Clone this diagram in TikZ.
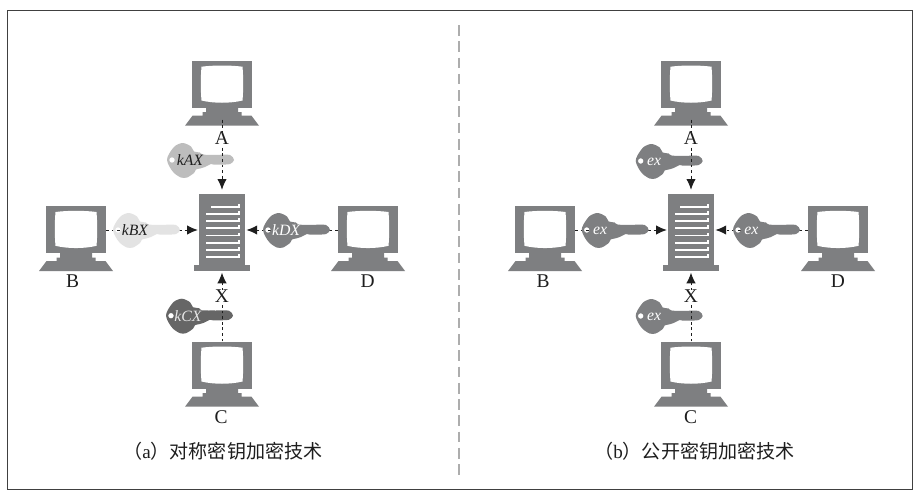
\documentclass[tikz,border=0pt]{standalone}
\usepackage{fontspec}
\setmainfont{Liberation Serif}
\newfontfamily\cjk{Noto Sans CJK SC}
\usetikzlibrary{arrows.meta}
\definecolor{dev}{HTML}{7E7F81}
\definecolor{ink}{HTML}{1E1E1E}
\def\pxu{0.75pt}
\tikzset{
  devfill/.style={fill=dev,draw=none},
  lbl/.style={font=\fontsize{14.6}{16}\selectfont,text=ink,inner sep=0.4pt,fill=white},
  keytxt/.style={font=\fontsize{11.8}{13}\selectfont\itshape,inner sep=0pt},
  caption/.style={font=\fontsize{14.3}{16}\selectfont,text=ink,inner sep=0pt,anchor=west},
  link/.style={draw=ink,line width=0.75pt,dash pattern=on 2.1pt off 2.1pt,
    -{Latex[length=8pt,width=7pt,color=ink]}},
  monnode/.style={devfill,rectangle,inner sep=0pt,minimum width=60*\pxu,minimum height=47*\pxu},
  srvnode/.style={devfill,rectangle,inner sep=0pt,minimum width=45.7*\pxu,minimum height=71*\pxu},
}
% name, x of centre, y of monitor top
\newcommand\computer[3]{%
  \node[monnode] (#1) at (#2,#3+23.5) {};
  \begin{scope}[shift={(#2,#3)}]
    \fill[white] (-20.5,6) .. controls (-8,4.4) and (8,4.4) .. (20.5,6)
      .. controls (21.4,16) and (21.4,30) .. (20.5,39.8)
      .. controls (8,42.8) and (-8,42.8) .. (-20.5,39.8)
      .. controls (-21.4,30) and (-21.4,16) .. (-20.5,6) -- cycle;
    \fill[dev] (-16,46.5) -- (-16,51.5) -- (-19.5,51.5) -- (-19.5,55) -- (-29.5,55) -- (-37,65)
      -- (37,65) -- (29.5,55) -- (19.5,55) -- (19.5,51.5) -- (16,51.5) -- (16,46.5) -- cycle;
    \coordinate (#1-port) at (0,59);
  \end{scope}}
% name, x of centre
\newcommand\serverbox[2]{%
  \node[srvnode] (#1) at (#2,229.5) {};
  \begin{scope}[shift={(#2,0)}]
    \fill[dev] (-28.4,265) rectangle (28.4,271);
    \coordinate (#1-foot) at (0,271);
    \foreach \yy/\xl in {207.3/-11,214/-16,221/-16,228.3/-16,235.5/-16,242.7/-16,250/-16,257.3/-16}
      \draw[white,line width=1.35pt] (\xl,\yy) -- (16.8,\yy) -- (16.8,\yy-3);
  \end{scope}}
% x, y of key's left end, fill, text, text colour, text offset, node name
\newcommand\keyicon[7]{%
  \begin{scope}[shift={(#1,#2)}]
    \fill[#3,even odd rule] plot[smooth cycle,tension=0.5] coordinates {
      (0,0) (2,-6) (8,-14) (16,-17) (24,-13.5) (27,-8.5) (33,-7.5) (36,-5.4) (50,-5.2) (63,-5)
      (67,0) (63,4) (54,4.6) (47,4.6) (44,4) (38,7) (33,8.5) (29,9.5) (27,13) (20,17.5) (14,17.5) (7,13) (2.4,6.5)}
      (5,0) circle (2.8);
    \node[keytxt,text=#5] (#7) at (#6,0.5) {#4};
  \end{scope}}
\begin{document}
\begin{tikzpicture}[x=\pxu,y=-\pxu]
\useasboundingbox (0,0) rectangle (918,496);
\fill[white] (0,0) rectangle (918,496);
\node[draw=ink!85,line width=0.75pt,rectangle,inner sep=0pt,minimum width=905*\pxu,minimum height=479*\pxu] (frame) at (459.5,249.5) {};
\coordinate (divtop) at (459,25);
\coordinate (divbot) at (459,478);
\draw[black!32,line width=0.8pt,dash pattern=on 8pt off 4.2pt] (divtop) -- (divbot);

% left panel
\computer{A}{222}{60.7}
\computer{B}{76}{206}
\computer{D}{368}{206}
\computer{C}{222}{341.7}
\serverbox{S}{222}
% right panel
\computer{Ar}{691}{60.7}
\computer{Br}{545}{206}
\computer{Dr}{838}{206}
\computer{Cr}{691}{341.7}
\serverbox{Sr}{691}

% horizontal connectors (under the keys)
\draw[link,shorten >=0.8pt] (B.east|-0,230) -- (S.west|-0,230);
\draw[link,shorten >=1pt] (D.west|-0,230) -- (S.east|-0,230);
\draw[link,shorten >=0.8pt] (Br.east|-0,230) -- (Sr.west|-0,230);
\draw[link,shorten >=1pt] (Dr.west|-0,230) -- (Sr.east|-0,230);

% keys
\keyicon{167}{160}{black!26}{kAX}{ink}{23}{kA}
\keyicon{113}{230}{black!11}{kBX}{ink}{22}{kB}
\keyicon{263}{230}{dev}{kDX}{white}{23}{kD}
\keyicon{166}{315.7}{black!60}{kCX}{white!90!black}{22}{kC}
\keyicon{635.7}{161}{dev}{ex}{white}{18.3}{eA}
\keyicon{581.7}{230}{dev}{ex}{white}{18.3}{eB}
\keyicon{733}{230}{dev}{ex}{white}{18.3}{eD}
\keyicon{635.7}{316}{dev}{ex}{white}{18.3}{eC}

% vertical connectors (over the keys)
\draw[link,shorten >=3pt] (A-port) -- (S.north);
\draw[link,shorten >=1.2pt] (C.north) -- (S-foot);
\draw[link,shorten >=3pt] (Ar-port) -- (Sr.north);
\draw[link,shorten >=1.2pt] (Cr.north) -- (Sr-foot);

% labels
\node[lbl] (la) at (222,138.5) {A};
\node[lbl] (lb) at (72.5,281) {B};
\node[lbl] (ld) at (367.7,281) {D};
\node[lbl] (lc) at (221,417) {C};
\node[lbl] (lx) at (222,296.5) {X};
\node[lbl] (lar) at (691,138.5) {A};
\node[lbl] (lbr) at (543,281) {B};
\node[lbl] (ldr) at (838,281) {D};
\node[lbl] (lcr) at (690.5,417) {C};
\node[lbl] (lxr) at (691,296.5) {X};

\node[caption] (capa) at (123,451) {{\cjk （}a{\cjk ）对称密钥加密技术}};
\node[caption] (capb) at (594,451) {{\cjk （}b{\cjk ）公开密钥加密技术}};
\end{tikzpicture}
\end{document}
